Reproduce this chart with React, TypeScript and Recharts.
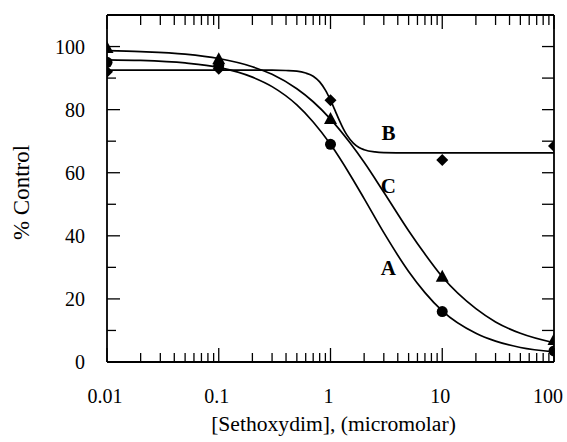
import React from 'react';
import { ComposedChart, Line, Scatter, XAxis, YAxis, ReferenceDot } from 'recharts';

// measured doses (micromolar) and % control for each treatment
const doses = [0.01, 0.1, 1, 10, 100];
const pointsA = [95, 94, 69, 16, 3.5];
const pointsB = [92, 93, 83, 64, 68.5];
const pointsC = [99.5, 96, 77, 27, 7];

// fitted curves
const curveX = [0.01, 0.02, 0.05, 0.1, 0.2, 0.3, 0.5, 0.7, 1, 1.5, 2, 3, 5, 7, 10, 20, 30, 50, 100];
const curveA = [95.8, 95.6, 94.8, 93.4, 90.3, 87.3, 81.5, 76.1, 69, 59.3, 51.8, 41, 28.7, 22, 16.2, 9.1, 6.6, 4.6, 3.2];
const curveC = [98.7, 98.4, 97.6, 96.2, 93.6, 91.2, 86.6, 82.5, 77, 69.4, 63.3, 53.8, 41.6, 34.2, 27, 16.9, 12.7, 9.1, 6.1];
const curveBX = [0.01, 0.1, 0.2, 0.3, 0.4, 0.5, 0.6, 0.7, 0.8, 0.9, 1, 1.1, 1.2, 1.3, 1.4, 1.6, 1.8, 2, 2.5, 3, 5, 10, 100];
const curveB = [92.5, 92.5, 92.5, 92.5, 92.4, 92.2, 91.6, 90.6, 88.8, 86.2, 83, 79.7, 76.6, 74, 72, 69.4, 68, 67.3, 66.6, 66.4, 66.3, 66.3, 66.3];

const decades = [0.01, 0.1, 1, 10, 100];
const yMajor = [0, 20, 40, 60, 80, 100];
const yTicks = [0, 10, 20, 30, 40, 50, 60, 70, 80, 90, 100];

const xTicks: number[] = [];
decades.forEach((d, i) => {
  xTicks.push(d);
  if (i < decades.length - 1) for (let m = 2; m <= 9; m++) xTicks.push(+(d * m).toPrecision(3));
});

const toXY = (xs: number[], ys: number[]) => xs.map((x, i) => ({ x, y: ys[i] }));

const FONT = 'Liberation Serif, DejaVu Serif, serif';

const BottomTick = (props: any) => {
  const { x, y, payload } = props;
  const major = decades.includes(payload.value);
  const shift = payload.value === 100 ? -6 : -2;
  return (
    <g>
      <line x1={x} x2={x} y1={y} y2={y - (major ? 14 : 9)} stroke="#000" strokeWidth={1.3} />
      {major && (
        <text x={x + shift} y={y + 41} textAnchor="middle" fontFamily={FONT} fontSize={20} fill="#000">
          {String(payload.value)}
        </text>
      )}
    </g>
  );
};

const TopTick = (props: any) => {
  const { x, y, payload } = props;
  const major = decades.includes(payload.value);
  return <line x1={x} x2={x} y1={y} y2={y + (major ? 14 : 10)} stroke="#000" strokeWidth={1.3} />;
};

const LeftTick = (props: any) => {
  const { x, y, payload } = props;
  const major = yMajor.includes(payload.value);
  return (
    <g>
      <line x1={x} x2={x + (major ? 13 : 9)} y1={y} y2={y} stroke="#000" strokeWidth={1.3} />
      {major && (
        <text x={x - 22} y={y} dy="0.35em" textAnchor="end" fontFamily={FONT} fontSize={20} fill="#000">
          {payload.value}
        </text>
      )}
    </g>
  );
};

const RightTick = (props: any) => {
  const { x, y } = props;
  return <line x1={x} x2={x - 12} y1={y} y2={y} stroke="#000" strokeWidth={1.3} />;
};

const dot = (p: any) => <circle cx={p.cx} cy={p.cy} r={5.5} fill="#000" />;
const tri = (p: any) => (
  <polygon points={`${p.cx},${p.cy - 7} ${p.cx - 6.5},${p.cy + 5} ${p.cx + 6.5},${p.cy + 5}`} fill="#000" />
);
const diamond = (p: any) => (
  <polygon points={`${p.cx},${p.cy - 6} ${p.cx + 6},${p.cy} ${p.cx},${p.cy + 6} ${p.cx - 6},${p.cy}`} fill="#000" />
);

const axisLine = { stroke: '#000', strokeWidth: 1.8 };

const curveLabel = (v: string) => ({
  content: (p: any) => {
    const { x, y, width, height } = p.viewBox;
    return (
      <text
        x={x + (width || 0) / 2}
        y={y + (height || 0) / 2}
        dy="0.35em"
        textAnchor="middle"
        fontFamily={FONT}
        fontSize={21}
        fontWeight="bold"
        fill="#000"
      >
        {v}
      </text>
    );
  },
});

const App: React.FC = () => {
  return (
    <div style={{ position: 'absolute', left: 0, top: 0, background: '#fff', fontFamily: FONT }}>
      <ComposedChart width={567} height={442} margin={{ top: 14, right: 12, bottom: 0, left: 0 }}>
        <XAxis
          xAxisId="bottom"
          dataKey="x"
          type="number"
          scale="log"
          domain={[0.01, 100]}
          allowDataOverflow
          ticks={xTicks}
          interval={0}
          tickSize={0}
          tickMargin={0}
          tickLine={false}
          tick={BottomTick}
          axisLine={axisLine}
          height={80}
          label={{
            content: (p: any) => (
              <text
                x={p.viewBox.x + p.viewBox.width / 2 + 3}
                y={p.viewBox.y + 69}
                textAnchor="middle"
                fontFamily={FONT}
                fontSize={21.6}
                fill="#000"
              >
                [Sethoxydim], (micromolar)
              </text>
            ),
          }}
        />
        <XAxis
          xAxisId="top"
          orientation="top"
          dataKey="x"
          type="number"
          scale="log"
          domain={[0.01, 100]}
          allowDataOverflow
          ticks={xTicks}
          interval={0}
          tickSize={0}
          tickMargin={0}
          tickLine={false}
          tick={TopTick}
          axisLine={axisLine}
          height={1}
        />
        <YAxis
          yAxisId="left"
          dataKey="y"
          type="number"
          domain={[0, 110]}
          allowDataOverflow
          ticks={yTicks}
          interval={0}
          tickSize={0}
          tickMargin={0}
          tickLine={false}
          tick={LeftTick}
          axisLine={axisLine}
          width={107}
          label={{
            content: (p: any) => {
              const cx = p.viewBox.x + 21;
              const cy = p.viewBox.y + p.viewBox.height / 2 + 4;
              return (
                <text
                  x={cx}
                  y={cy}
                  dy="0.35em"
                  textAnchor="middle"
                  transform={`rotate(-90 ${cx} ${cy})`}
                  fontFamily={FONT}
                  fontSize={23}
                  fill="#000"
                >
                  % Control
                </text>
              );
            },
          }}
        />
        <YAxis
          yAxisId="right"
          orientation="right"
          type="number"
          domain={[0, 110]}
          allowDataOverflow
          ticks={yTicks}
          interval={0}
          tickSize={0}
          tickMargin={0}
          tickLine={false}
          tick={RightTick}
          axisLine={axisLine}
          width={1}
        />

        <Line xAxisId="bottom" yAxisId="left" data={toXY(curveX, curveA)} dataKey="y" type="monotone" stroke="#000" strokeWidth={1.7} dot={false} isAnimationActive={false} />
        <Line xAxisId="bottom" yAxisId="left" data={toXY(curveX, curveC)} dataKey="y" type="monotone" stroke="#000" strokeWidth={1.7} dot={false} isAnimationActive={false} />
        <Line xAxisId="bottom" yAxisId="left" data={toXY(curveBX, curveB)} dataKey="y" type="monotone" stroke="#000" strokeWidth={1.7} dot={false} isAnimationActive={false} />

        <Scatter xAxisId="bottom" yAxisId="left" data={toXY(doses, pointsA)} shape={dot} isAnimationActive={false} />
        <Scatter xAxisId="bottom" yAxisId="left" data={toXY(doses, pointsC)} shape={tri} isAnimationActive={false} />
        <Scatter xAxisId="bottom" yAxisId="left" data={toXY(doses, pointsB)} shape={diamond} isAnimationActive={false} />

        <ReferenceDot xAxisId="bottom" yAxisId="left" x={3.3} y={72.6} r={0} fill="none" stroke="none" label={curveLabel('B')} />
        <ReferenceDot xAxisId="bottom" yAxisId="left" x={3.3} y={56} r={0} fill="none" stroke="none" label={curveLabel('C')} />
        <ReferenceDot xAxisId="bottom" yAxisId="left" x={3.3} y={30} r={0} fill="none" stroke="none" label={curveLabel('A')} />
      </ComposedChart>
    </div>
  );
};

export default App;
